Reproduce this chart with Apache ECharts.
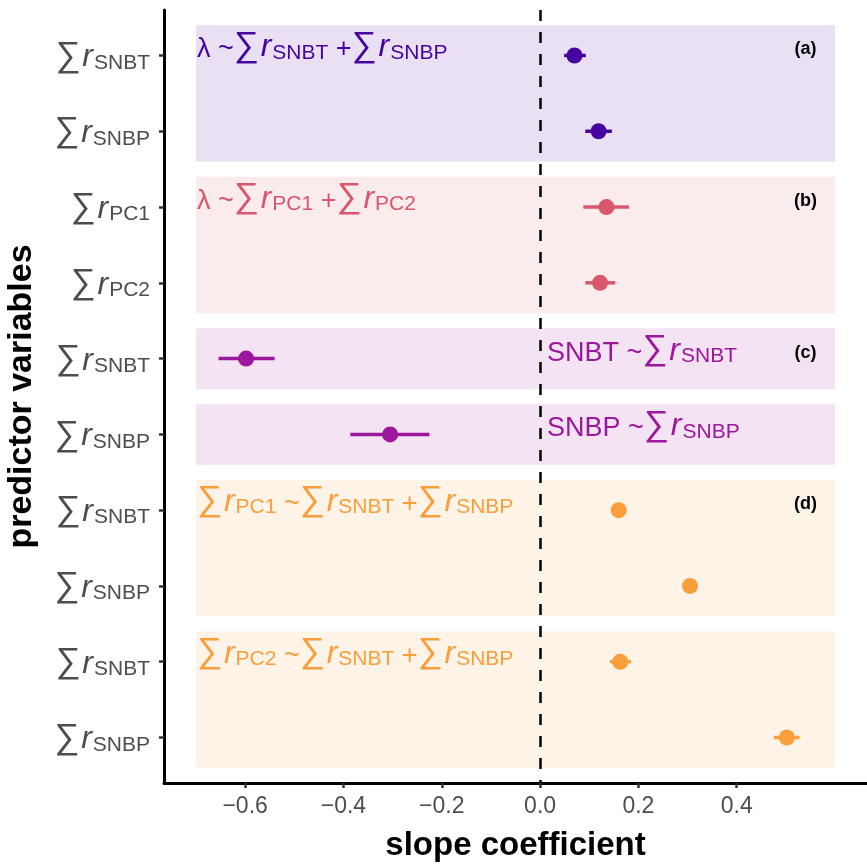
<!DOCTYPE html>
<html>
<head>
<meta charset="utf-8">
<script src="https://cdn.jsdelivr.net/npm/echarts@6/dist/echarts.min.js"></script>
<style>
  html, body { margin: 0; padding: 0; background: #fff; }
  #chart { width: 867px; height: 864px; }
</style>
</head>
<body>
<div id="chart"></div>
<script>
// one row per predictor, top to bottom
const rowNames = ["SNBT", "SNBP", "PC1", "PC2", "SNBT", "SNBP", "SNBT", "SNBP", "SNBT", "SNBP"];
const estimates = [0.070, 0.119, 0.135, 0.122, -0.598, -0.305, 0.160, 0.305, 0.163, 0.502];
const lowerCI   = [0.049, 0.092, 0.088, 0.092, -0.654, -0.386, 0.152, 0.297, 0.142, 0.476];
const upperCI   = [0.093, 0.146, 0.181, 0.153, -0.540, -0.225, 0.168, 0.313, 0.185, 0.528];
const rowGroup  = [0, 0, 1, 1, 2, 2, 3, 3, 3, 3];

const groupColors = ["#47039F", "#D8576B", "#9C179E", "#FA9E3B"];
const groupTags = ["(a)", "(b)", "(c)", "(d)"];
const tagRows = [1, 3, 5, 7];

// shaded boxes: first row, last row, group
const boxFirst = [1, 3, 5, 6, 7, 9];
const boxLast  = [2, 4, 5, 6, 8, 10];
const boxGroup = [0, 1, 2, 2, 3, 3];

// model formulas written over each box
const modelText = [
  "{t|λ ~}{s|∑}{r|r}{b|SNBT}{t| +}{s|∑}{r|r}{b|SNBP}",
  "{t|λ ~}{s|∑}{r|r}{b|PC1}{t| +}{s|∑}{r|r}{b|PC2}",
  "{t|SNBT ~}{s|∑}{r|r}{b|SNBT}",
  "{t|SNBP ~}{s|∑}{r|r}{b|SNBP}",
  "{s|∑}{r|r}{b|PC1}{t| ~}{s|∑}{r|r}{b|SNBT}{t| +}{s|∑}{r|r}{b|SNBP}",
  "{s|∑}{r|r}{b|PC2}{t| ~}{s|∑}{r|r}{b|SNBT}{t| +}{s|∑}{r|r}{b|SNBP}"
];
const modelX = [-0.7, -0.7, 0, 0, -0.7, -0.7];

const xTicks = [-0.6, -0.4, -0.2, 0, 0.2, 0.4];
const rows = rowNames.map((_, i) => i + 1);

const FONT = "Liberation Sans, Arial, sans-serif";

function mathRich(color) {
  return {
    t: { fontFamily: FONT, fontSize: 27, color: color, verticalAlign: "bottom", lineHeight: 36 },
    s: { fontFamily: FONT, fontSize: 35, color: color, verticalAlign: "bottom", lineHeight: 36 },
    r: { fontFamily: FONT, fontSize: 32, fontStyle: "italic", color: color, verticalAlign: "bottom", lineHeight: 36, padding: [0, 1, 0, 2] },
    b: { fontFamily: FONT, fontSize: 21, color: color, verticalAlign: "bottom", lineHeight: 29 }
  };
}

let chart = echarts.init(document.getElementById("chart"), null, { renderer: "canvas" });

const boxAreas = boxFirst.map((f, i) => [
  { xAxis: -0.7, yAxis: f - 0.4, itemStyle: { color: groupColors[boxGroup[i]], opacity: 0.12 } },
  { xAxis: 0.6, yAxis: boxLast[i] + 0.4 }
]);

const series = [
  {
    type: "scatter",
    name: "boxes",
    data: [],
    silent: true,
    z: 1,
    markArea: { silent: true, data: boxAreas },
    markLine: {
      silent: true,
      symbol: "none",
      label: { show: false },
      lineStyle: { color: "#000", width: 2.5, type: [11, 11] },
      data: [{ xAxis: 0 }]
    }
  },
  {
    type: "custom",
    name: "ci",
    data: rows.map((r, i) => [lowerCI[i], upperCI[i], r, rowGroup[i]]),
    renderItem: (params, api) => {
      const a = api.coord([api.value(0), api.value(2)]);
      const b = api.coord([api.value(1), api.value(2)]);
      return {
        type: "line",
        shape: { x1: a[0], y1: a[1], x2: b[0], y2: b[1] },
        style: { stroke: groupColors[api.value(3)], lineWidth: 3.5 }
      };
    },
    z: 4
  },
  {
    type: "scatter",
    name: "estimate",
    symbolSize: 16,
    itemStyle: { opacity: 1 },
    data: rows.map((r, i) => ({ value: [estimates[i], r], itemStyle: { color: groupColors[rowGroup[i]] } })),
    z: 5
  },
  {
    type: "scatter",
    name: "models",
    symbolSize: 0,
    silent: true,
    itemStyle: { opacity: 1 },
    data: boxFirst.map((f, i) => ({
      value: [modelX[i], f],
      label: {
        show: true,
        position: "right",
        distance: 1,
        offset: [modelX[i] === 0 ? 6 : 0, -10],
        formatter: modelText[i],
        rich: mathRich(groupColors[boxGroup[i]])
      }
    })),
    z: 6
  },
  {
    type: "scatter",
    name: "tags",
    symbolSize: 0,
    silent: true,
    itemStyle: { opacity: 1 },
    data: tagRows.map((r, i) => ({ value: [0.54, r], label: { show: true, formatter: groupTags[i] } })),
    label: {
      show: true,
      position: "inside",
      offset: [0, -6],
      fontFamily: FONT,
      fontWeight: "bold",
      fontSize: 18,
      color: "#000"
    },
    z: 6
  }
];

chart.setOption({
  animation: false,
  grid: { left: 164, right: 0, top: 10, bottom: 81, containLabel: false, outerBoundsMode: "none" },
  xAxis: {
    type: "value",
    min: -0.765,
    max: 0.665,
    name: "slope coefficient",
    nameLocation: "middle",
    nameGap: 46,
    nameTextStyle: { fontFamily: FONT, fontWeight: "bold", fontSize: 33, color: "#000" },
    axisLine: { show: true, onZero: false, lineStyle: { color: "#000", width: 3 } },
    axisTick: { show: true, customValues: xTicks, length: 5, lineStyle: { color: "#333", width: 2.5 } },
    axisLabel: {
      customValues: xTicks,
      formatter: v => (v < 0 ? "\u2212" : "") + Math.abs(v).toFixed(1),
      fontFamily: FONT,
      fontSize: 23,
      color: "#4D4D4D",
      margin: 12
    },
    splitLine: { show: false }
  },
  yAxis: {
    type: "value",
    inverse: true,
    min: 0.4,
    max: 10.6,
    name: "predictor variables",
    nameLocation: "middle",
    nameGap: 125,
    nameTextStyle: { fontFamily: FONT, fontWeight: "bold", fontSize: 34, color: "#000" },
    axisLine: { show: true, onZero: false, lineStyle: { color: "#000", width: 3 } },
    axisTick: { show: true, customValues: rows, length: 5, lineStyle: { color: "#333", width: 2.5 } },
    axisLabel: {
      customValues: rows,
      formatter: v => "{s|∑}{r|r}{b|" + rowNames[v - 1] + "}",
      rich: mathRich("#4D4D4D"),
      margin: 14
    },
    splitLine: { show: false }
  },
  series: series
});
window.addEventListener("resize", () => chart.resize());
</script>
</body>
</html>
